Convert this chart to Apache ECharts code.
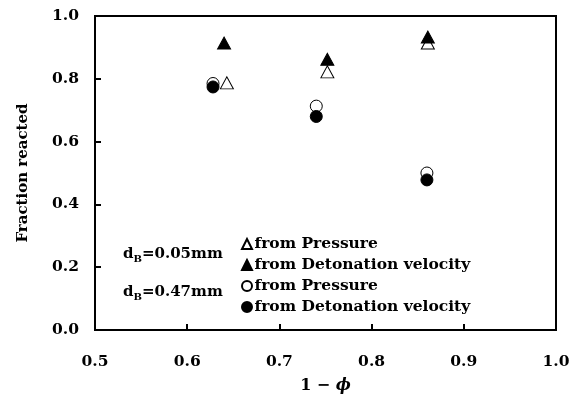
<!DOCTYPE html>
<html><head><meta charset="utf-8">
<script src="https://cdn.jsdelivr.net/npm/echarts@6/dist/echarts.min.js"></script>
<style>html,body{margin:0;padding:0;background:#fff}#c{width:573px;height:407px}</style>
</head><body><div id="c"></div>
<script>
const xTicks = [0.5, 0.6, 0.7, 0.8, 0.9, 1.0];
const yTicks = [0.0, 0.2, 0.4, 0.6, 0.8, 1.0];
const pressureSmall = [[0.643, 0.787], [0.752, 0.822], [0.861, 0.914]];
const detonationSmall = [[0.640, 0.914], [0.752, 0.862], [0.861, 0.933]];
const pressureLarge = [[0.628, 0.785], [0.740, 0.713], [0.860, 0.500]];
const detonationLarge = [[0.628, 0.774], [0.740, 0.680], [0.860, 0.478]];
const seriesNames = ['from Pressure', 'from Detonation velocity', 'from Pressure', 'from Detonation velocity'];
const sizeLabels = ['0.05mm', '0.47mm'];

const FONT = 'DejaVu Serif';
const chart = echarts.init(document.getElementById('c'));
const keys = ['s1', 's2', 's3', 's4'];
const nameMap = {s1: seriesNames[0], s2: seriesNames[1], s3: seriesNames[2], s4: seriesNames[3]};
const tri = 'path://M0,10 L5,0 L10,10 Z';
const sub = {
  d: {fontFamily: FONT, fontWeight: 'bold', fontSize: 15, fill: '#000'},
  s: {fontFamily: FONT, fontWeight: 'bold', fontSize: 10, fill: '#000', padding: [9,0,0,0]}
};
chart.setOption({
  animation: false,
  grid: {left: 95, right: 17, top: 16, bottom: 77, show: true, borderColor: '#000', borderWidth: 2},
  xAxis: {
    type: 'value', min: 0.5, max: 1.0, interval: 0.1,
    name: '{a|1 \u2212 }{b|\u03D5}', nameLocation: 'middle', nameGap: 48,
    nameTextStyle: {rich: {
      a: {fontFamily: FONT, fontWeight: 'bold', fontSize: 16, color: '#000'},
      b: {fontFamily: FONT, fontWeight: 'bold', fontStyle: 'italic', fontSize: 16, color: '#000'}}},
    axisLine: {lineStyle: {color: '#000', width: 2}},
    axisTick: {inside: true, length: 6, lineStyle: {color: '#000', width: 2}},
    axisLabel: {fontFamily: FONT, fontWeight: 'bold', fontSize: 15.5, color: '#000', margin: 24,
      formatter: v => v.toFixed(1)},
    splitLine: {show: false}
  },
  yAxis: {
    type: 'value', min: 0, max: 1.0, interval: 0.2,
    name: 'Fraction reacted', nameLocation: 'middle', nameGap: 64,
    nameTextStyle: {fontFamily: FONT, fontWeight: 'bold', fontSize: 15, color: '#000'},
    axisLine: {lineStyle: {color: '#000', width: 2}},
    axisTick: {inside: true, length: 6, lineStyle: {color: '#000', width: 2}},
    axisLabel: {fontFamily: FONT, fontWeight: 'bold', fontSize: 15.5, color: '#000', margin: 16,
      formatter: v => v.toFixed(1)},
    splitLine: {show: false}
  },
  legend: {
    orient: 'vertical', left: 236, top: 231, itemGap: 5, itemWidth: 11, itemHeight: 10,
    data: keys,
    formatter: n => nameMap[n],
    textStyle: {fontFamily: FONT, fontWeight: 'bold', fontSize: 15.5, color: '#000', padding: [0,0,0,-3]}
  },
  graphic: [
    {type: 'text', left: 123, top: 247, style: {
      text: '{d|d}{s|B}{d|=' + sizeLabels[0] + '}', rich: sub}},
    {type: 'text', left: 123, top: 285, style: {
      text: '{d|d}{s|B}{d|=' + sizeLabels[1] + '}', rich: sub}}
  ],
  series: [
    {name: 's1', type: 'scatter', data: pressureSmall, symbol: tri, symbolSize: [13, 12], z: 3,
      itemStyle: {color: '#fff', borderColor: '#000', borderWidth: 1, opacity: 1}},
    {name: 's2', type: 'scatter', data: detonationSmall, symbol: tri, symbolSize: [13, 12], z: 4,
      itemStyle: {color: '#000', borderColor: '#000', borderWidth: 1, opacity: 1}},
    {name: 's3', type: 'scatter', data: pressureLarge, symbol: 'circle', symbolSize: 12, z: 3,
      itemStyle: {color: '#fff', borderColor: '#000', borderWidth: 1, opacity: 1}},
    {name: 's4', type: 'scatter', data: detonationLarge, symbol: 'circle', symbolSize: 12, z: 4,
      itemStyle: {color: '#000', borderColor: '#000', borderWidth: 1, opacity: 1}}
  ]
});
</script></body></html>
